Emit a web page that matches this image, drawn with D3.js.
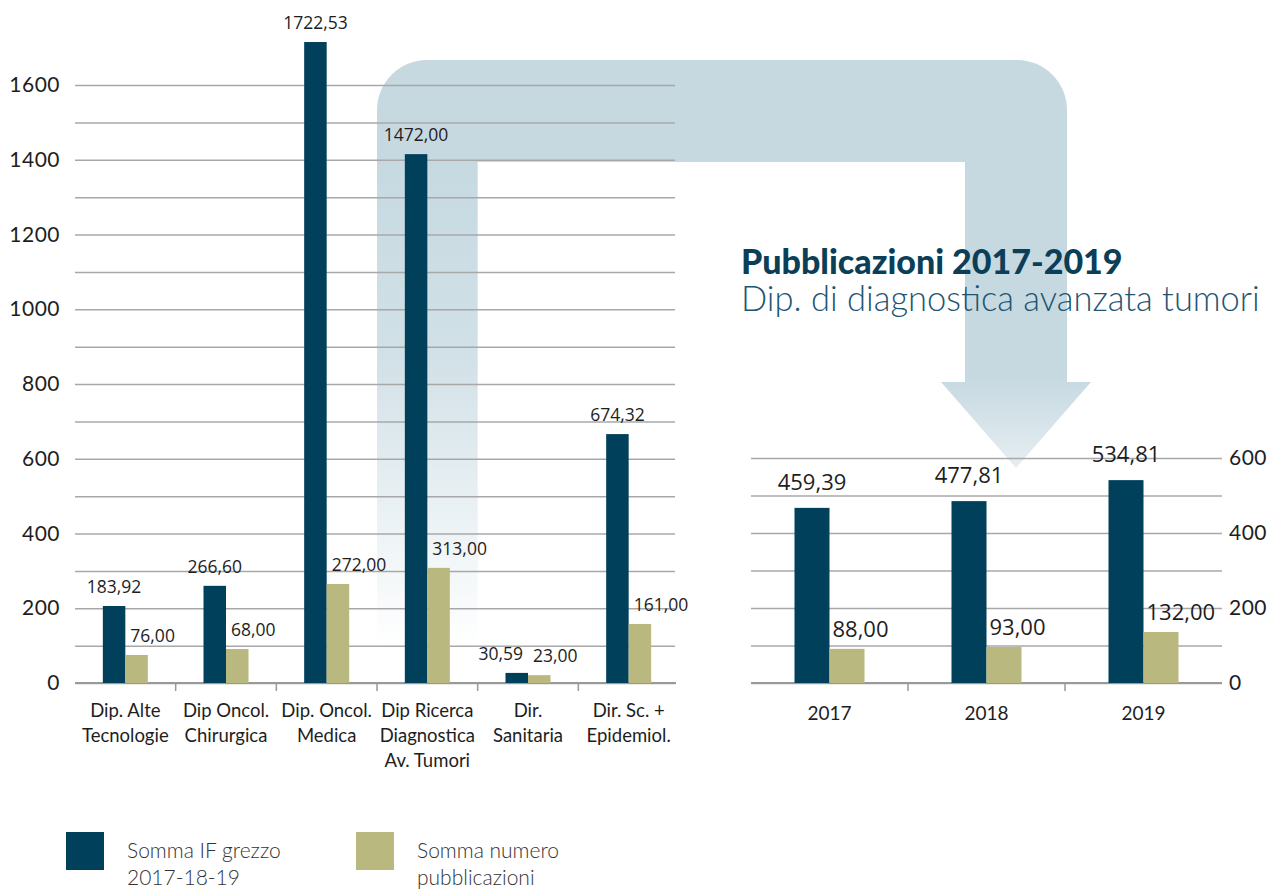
<!DOCTYPE html>
<html>
<head>
<meta charset="utf-8">
<script src="https://cdn.jsdelivr.net/npm/d3@7"></script>
<style>
  body { margin: 0; background: #fff; }
  svg { display: block; font-family: Lato, 'Open Sans', sans-serif; }
</style>
</head>
<body>
<svg width="1285" height="890"></svg>
<script>
/** data: departments 2017-18-19 */
var departments = ['Dip. Alte|Tecnologie', 'Dip Oncol.|Chirurgica', 'Dip. Oncol.|Medica', 'Dip Ricerca|Diagnostica|Av. Tumori', 'Dir.|Sanitaria', 'Dir. Sc. +|Epidemiol.'];
// bar heights as drawn in the source (printed labels don't always match them)
var deptIF = [206, 260, 1715, 1415, 27, 666];
var deptIFLabels = ['183,92', '266,60', '1722,53', '1472,00', '30,59', '674,32'];
var deptPub = [75, 91, 265, 308, 21, 158];
var deptPubLabels = ['76,00', '68,00', '272,00', '313,00', '23,00', '161,00'];
var leftTicks = [0, 100, 200, 300, 400, 500, 600, 700, 800, 900, 1000, 1100, 1200, 1300, 1400, 1500, 1600];

/** data: Dip. di diagnostica avanzata tumori per year */
var years = ['2017', '2018', '2019'];
var yearIF = [467, 485, 541];
var yearIFLabels = ['459,39', '477,81', '534,81'];
var yearPub = [91, 96, 136];
var yearPubLabels = ['88,00', '93,00', '132,00'];
var rightTicks = [0, 100, 200, 300, 400, 500, 600];

var seriesNames = ['Somma IF grezzo|2017-18-19', 'Somma numero|pubblicazioni'];

var darkColor = '#00405a';
var khakiColor = '#b9b87e';
var gridColor = '#a8a8a8';
var textColor = '#1e1e1e';
var arrowColor = '#c6d9e1';

var svg = d3.select('svg');
var baseY = 683;

// left chart scales
var xL = d3.scaleBand().domain(departments).range([75, 679]);
var yL = d3.scaleLinear().domain([0, 1600]).range([baseY, 85]);
var barL = 22.5;

// right chart scales
var xR = d3.scaleBand().domain(years).range([751, 1222]);
var yR = d3.scaleLinear().domain([0, 600]).range([baseY, 458]);
var barR = 35;

var defs = svg.append('defs');

function gradient(id, y1, y2, stops) {
    var g = defs.append('linearGradient').attr('id', id)
        .attr('gradientUnits', 'userSpaceOnUse')
        .attr('x1', 0).attr('x2', 0).attr('y1', y1).attr('y2', y2);
    stops.forEach(s => g.append('stop').attr('offset', s[0]).attr('stop-color', s[1]).attr('stop-opacity', s[2]));
}

function renderArrow() {
    var armL = xL(departments[3]);
    var armLw = xL.bandwidth();
    var top = 60, inner = 162, r = 50;
    var armR = 965, armRw = 102;
    var headY = 382, tipY = 468, headHalf = 75;
    var cx = armR + armRw / 2;

    gradient('armGrad', inner, 645, [[0, arrowColor, 1], [0.4, arrowColor, 0.8], [1, arrowColor, 0]]);
    gradient('bodyGrad', top, tipY, [[0, arrowColor, 1], [0.78, arrowColor, 1], [1, '#e6eef2', 1]]);

    svg.append('rect')
        .attr('x', armL).attr('y', inner)
        .attr('width', armLw).attr('height', 645 - inner)
        .style('fill', 'url(#armGrad)');

    svg.append('path').attr('d',
        `M ${armL},${inner}
         V ${top + r}
         A ${r},${r} 0 0 1 ${armL + r},${top}
         H ${armR + armRw - r}
         A ${r},${r} 0 0 1 ${armR + armRw},${top + r}
         V ${headY}
         H ${cx + headHalf}
         L ${cx},${tipY}
         L ${cx - headHalf},${headY}
         H ${armR}
         V ${inner}
         Z`)
        .style('fill', 'url(#bodyGrad)');
}

function styleGrid(g) {
    g.select('.domain').remove();
    g.selectAll('.tick line').attr('stroke', gridColor).attr('stroke-width', 1.5);
    g.selectAll('.tick text').attr('fill', textColor).style('font-size', '21px')
        .style('font-family', 'Lato, sans-serif').style('letter-spacing', '0.5px');
}

function renderLeft() {
    var axis = d3.axisLeft(yL).tickValues(leftTicks)
        .tickSize(-(675 - 75)).tickPadding(15)
        .tickFormat(d => d % 200 ? '' : d);
    svg.append('g').attr('transform', 'translate(75,0)').call(axis).call(styleGrid);

    // baseline + boundary ticks
    svg.append('line').attr('x1', 75).attr('x2', 676).attr('y1', baseY).attr('y2', baseY)
        .attr('stroke', '#999').attr('stroke-width', 2);
    svg.selectAll('.ltick').data(departments.slice(1)).enter().append('line')
        .attr('x1', d => xL(d)).attr('x2', d => xL(d))
        .attr('y1', baseY).attr('y2', baseY + 8)
        .attr('stroke', '#999').attr('stroke-width', 1.5);

    var groups = svg.selectAll('.dept').data(departments).enter().append('g')
        .attr('transform', d => `translate(${xL(d) + xL.bandwidth() / 2},0)`);

    groups.append('rect')
        .attr('x', -barL).attr('width', barL)
        .attr('y', (d, i) => yL(deptIF[i])).attr('height', (d, i) => baseY - yL(deptIF[i]))
        .style('fill', darkColor);
    groups.append('rect')
        .attr('x', 0).attr('width', barL)
        .attr('y', (d, i) => yL(deptPub[i])).attr('height', (d, i) => baseY - yL(deptPub[i]))
        .style('fill', khakiColor);

    var pubText = groups.append('text')
        .attr('x', 5).attr('y', (d, i) => yL(deptPub[i]) - 13)
        .text((d, i) => deptPubLabels[i]);
    var ifText = groups.append('text')
        .attr('x', -barL / 2).attr('y', (d, i) => yL(deptIF[i]) - 13)
        .attr('text-anchor', 'middle')
        .text((d, i) => deptIFLabels[i]);
    [pubText, ifText].forEach(t => t.style('font-family', "'Open Sans', sans-serif")
        .style('font-size', '17.5px').attr('fill', textColor));

    // push the IF label left when it would run into the publications label
    ifText.each(function (d, i) {
        var w = this.getComputedTextLength();
        var pubY = yL(deptPub[i]), ifY = yL(deptIF[i]);
        if (Math.abs(pubY - ifY) < 20 && -barL / 2 + w / 2 > 5 - 6) {
            d3.select(this).attr('text-anchor', 'end').attr('x', 5 - 10);
        }
    });

    groups.append('text')
        .attr('text-anchor', 'middle')
        .attr('fill', textColor)
        .style('font-size', '18.5px')
        .selectAll('tspan').data(d => d.split('|')).enter().append('tspan')
        .attr('x', 0).attr('y', (d, i) => 717 + i * 25)
        .text(d => d);
}

function renderRight() {
    var axis = d3.axisRight(yR).tickValues(rightTicks)
        .tickSize(-(1222 - 751)).tickPadding(7)
        .tickFormat(d => d % 200 ? '' : d);
    svg.append('g').attr('transform', 'translate(1222,0)').call(axis).call(styleGrid);

    svg.append('line').attr('x1', 751).attr('x2', 1222).attr('y1', baseY).attr('y2', baseY)
        .attr('stroke', '#999').attr('stroke-width', 2);
    svg.selectAll('.rtick').data(years.slice(1)).enter().append('line')
        .attr('x1', d => xR(d)).attr('x2', d => xR(d))
        .attr('y1', baseY).attr('y2', baseY + 8)
        .attr('stroke', '#999').attr('stroke-width', 1.5);

    var groups = svg.selectAll('.year').data(years).enter().append('g')
        .attr('transform', d => `translate(${xR(d) + xR.bandwidth() / 2},0)`);

    groups.append('rect')
        .attr('x', -barR).attr('width', barR)
        .attr('y', (d, i) => yR(yearIF[i])).attr('height', (d, i) => baseY - yR(yearIF[i]))
        .style('fill', darkColor);
    groups.append('rect')
        .attr('x', 0).attr('width', barR)
        .attr('y', (d, i) => yR(yearPub[i])).attr('height', (d, i) => baseY - yR(yearPub[i]))
        .style('fill', khakiColor);

    groups.append('text')
        .attr('x', -barR / 2).attr('y', (d, i) => yR(yearIF[i]) - 18)
        .attr('text-anchor', 'middle')
        .text((d, i) => yearIFLabels[i]);
    groups.append('text')
        .attr('x', 3).attr('y', (d, i) => yR(yearPub[i]) - 12)
        .text((d, i) => yearPubLabels[i]);
    groups.selectAll('text').style('font-family', "'Open Sans', sans-serif")
        .style('font-size', '22px').attr('fill', textColor);

    groups.append('text')
        .attr('y', 720).attr('text-anchor', 'middle')
        .attr('fill', textColor).style('font-size', '19px')
        .text(d => d);
}

function renderTitle() {
    svg.append('text')
        .attr('x', 741).attr('y', 274)
        .attr('fill', '#0b3f58')
        .style('font-size', '34px').style('font-weight', 900)
        .text('Pubblicazioni 2017-2019');
    svg.append('text')
        .attr('x', 741).attr('y', 311)
        .attr('fill', '#1d5572')
        .style('font-size', '34.5px').style('font-weight', 300)
        .text('Dip. di diagnostica avanzata tumori');
}

function renderLegend() {
    var colors = [darkColor, khakiColor];
    var item = svg.selectAll('.legend').data(seriesNames).enter().append('g')
        .attr('transform', (d, i) => `translate(${66 + i * 290},832)`);
    item.append('rect').attr('width', 38).attr('height', 38)
        .style('fill', (d, i) => colors[i]);
    item.append('text')
        .attr('fill', '#333').style('font-size', '21px').style('font-weight', 300)
        .selectAll('tspan').data(d => d.split('|')).enter().append('tspan')
        .attr('x', 61).attr('y', (d, i) => 26 + i * 27)
        .text(d => d);
}

renderArrow();
renderLeft();
renderRight();
renderTitle();
renderLegend();
</script>
</body>
</html>
